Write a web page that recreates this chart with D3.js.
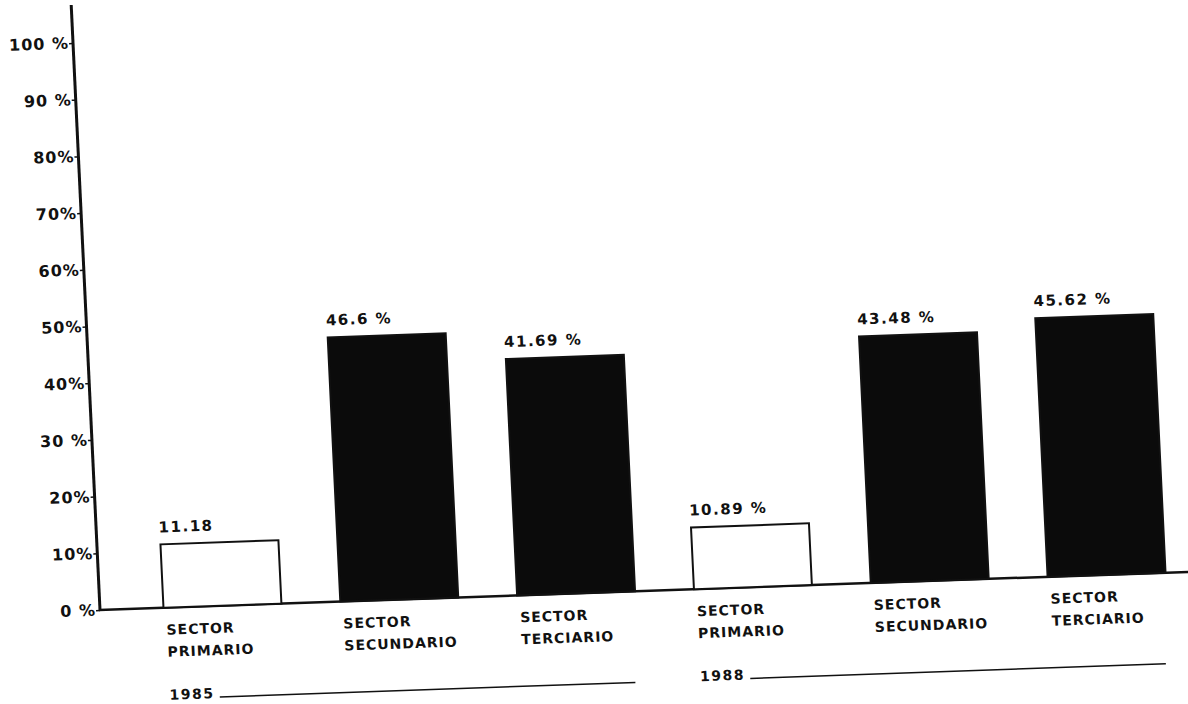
<!DOCTYPE html>
<html lang="es">
<head>
    <meta charset="UTF-8">
    <title>Sectores 1985 - 1988</title>
    <script src="https://d3js.org/d3.v7.min.js"></script>
    <style>
        body { margin: 0; background: #fff; }
        svg text { font-family: "DejaVu Sans", sans-serif; font-weight: bold; fill: #111; }
    </style>
</head>
<body>
    <div id="chart-container"></div>

    <script>
        // data
        const years = ["1985", "1988"];
        const sectors = ["PRIMARIO", "SECUNDARIO", "TERCIARIO"];
        const values1985 = [11.18, 46.6, 41.69];
        const values1988 = [10.89, 43.48, 45.62];
        const valueLabels1985 = ["11.18", "46.6 %", "41.69 %"];
        const valueLabels1988 = ["10.89 %", "43.48 %", "45.62 %"];
        const yTicks = [0, 10, 20, 30, 40, 50, 60, 70, 80, 90, 100];
        const yTickLabels = ["0 %", "10%", "20%", "30 %", "40%", "50%", "60%", "70%", "80%", "90 %", "100 %"];

        const sectorFill = { PRIMARIO: "#fff", SECUNDARIO: "#0b0b0b", TERCIARIO: "#0b0b0b" };

        const valuesByYear = { "1985": values1985, "1988": values1988 };
        const labelsByYear = { "1985": valueLabels1985, "1988": valueLabels1988 };
        const rows = [];
        years.forEach(function(yr) {
            sectors.forEach(function(s, i) {
                rows.push({ key: yr + "-" + s, year: yr, sector: s, value: valuesByYear[yr][i], label: labelsByYear[yr][i] });
            });
        });

        const containerWidth = 1188;
        const containerHeight = 704;

        const svg = d3.select("#chart-container")
            .append("svg")
            .attr("width", containerWidth)
            .attr("height", containerHeight);

        // the scan sits a little crooked on the page, so the whole drawing is tilted the same way
        const g = svg.append("g")
            .attr("transform", "matrix(1,-0.035,0.0476,1,100,610)");

        const x = d3.scaleBand()
            .domain(rows.map(d => d.key))
            .range([34, 1095])
            .paddingInner(0.333)
            .paddingOuter(0.1667);

        const y = d3.scaleLinear()
            .domain([0, 100])
            .range([0, -567]);

        // y axis
        g.append("g")
            .attr("class", "axis axis-y")
            .call(d3.axisLeft(y)
                .tickValues(yTicks)
                .tickFormat((d, i) => yTickLabels[i])
                .tickSize(4)
                .tickPadding(0))
            .call(a => a.select(".domain").remove())
            .call(a => a.selectAll("line").attr("stroke", "#111").attr("stroke-width", 1.5))
            .call(a => a.selectAll("text")
                .style("font-size", "16px")
                .style("letter-spacing", "1px")
                .style("font-family", "DejaVu Sans, sans-serif"));

        g.append("line")
            .attr("x1", 0).attr("y1", 0)
            .attr("x2", 0).attr("y2", y(106.7))
            .attr("stroke", "#111")
            .attr("stroke-width", 3);

        // baseline
        g.append("line")
            .attr("x1", -1).attr("y1", 0)
            .attr("x2", 1100).attr("y2", 0)
            .attr("stroke", "#111")
            .attr("stroke-width", 2.5);

        // bars
        g.selectAll(".bar")
            .data(rows)
            .enter()
            .append("rect")
            .attr("class", "bar")
            .attr("x", d => x(d.key))
            .attr("y", d => y(d.value))
            .attr("width", x.bandwidth())
            .attr("height", d => y(0) - y(d.value))
            .attr("fill", d => sectorFill[d.sector])
            .attr("stroke", "#111")
            .attr("stroke-width", 2);

        // value labels
        g.selectAll(".value")
            .data(rows)
            .enter()
            .append("text")
            .attr("class", "value")
            .attr("x", d => x(d.key) - 1)
            .attr("y", d => y(d.value) - 12)
            .style("font-size", "15px")
            .style("letter-spacing", "1.5px")
            .text(d => d.label);

        // category labels
        const cat = g.selectAll(".cat")
            .data(rows)
            .enter()
            .append("text")
            .attr("class", "cat")
            .attr("x", d => x(d.key) + 2)
            .attr("y", 27)
            .style("font-size", "14px")
            .style("letter-spacing", "1px");
        cat.append("tspan").attr("x", d => x(d.key) + 2).text("SECTOR");
        cat.append("tspan").attr("x", d => x(d.key) + 2).attr("dy", 22).text(d => d.sector);

        // year labels with their underline
        years.forEach(function(yr) {
            const keys = rows.filter(d => d.year === yr).map(d => d.key);
            const left = x(keys[0]);
            const right = x(keys[keys.length - 1]) + x.bandwidth();
            g.append("text")
                .attr("x", left + 2)
                .attr("y", 92)
                .style("font-size", "14px")
                .style("letter-spacing", "1.5px")
                .text(yr);
            g.append("line")
                .attr("x1", left + 52).attr("y1", 91)
                .attr("x2", right - 4).attr("y2", 91)
                .attr("stroke", "#111")
                .attr("stroke-width", 1.5);
        });
    </script>
</body>
</html>
